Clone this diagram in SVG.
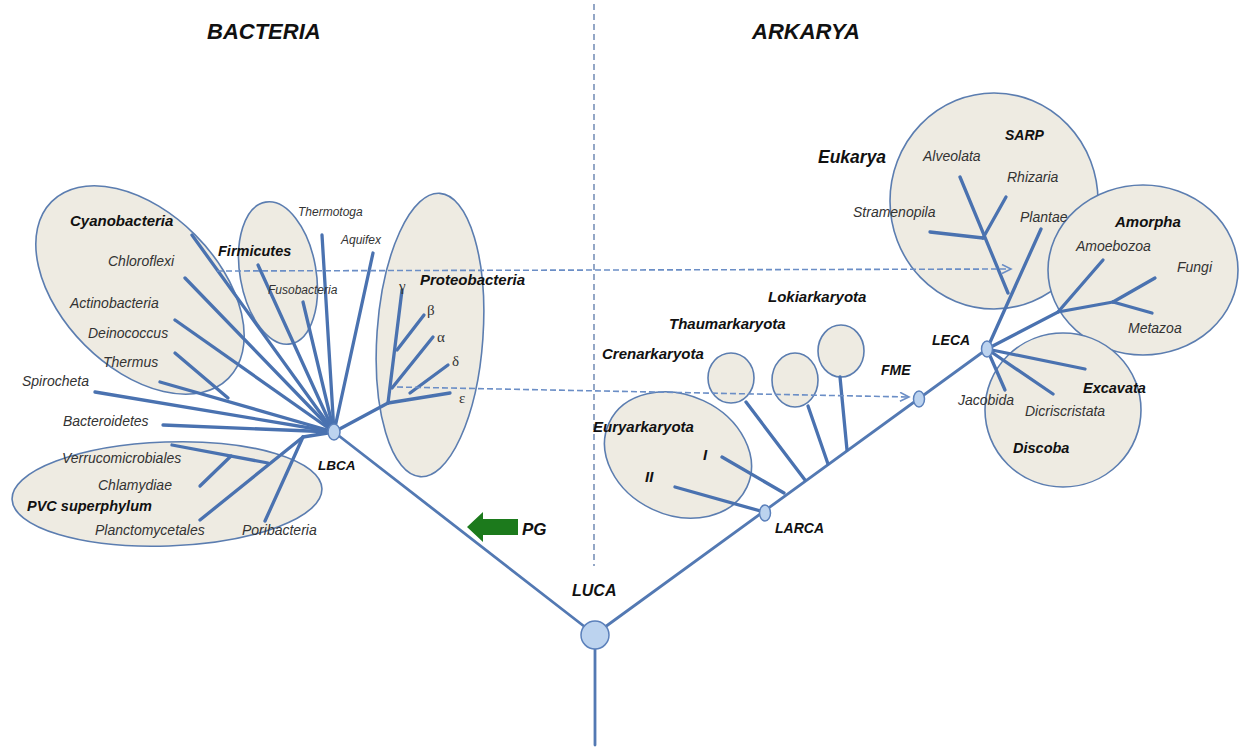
<svg xmlns="http://www.w3.org/2000/svg" width="1252" height="751" viewBox="0 0 1252 751">
<style>
.br{stroke:#4a72b0;stroke-width:3.3;stroke-linecap:round;fill:none}
.tr{stroke:#5379b3;stroke-width:2.8;stroke-linecap:round;fill:none}
.grp{fill:#eeebe2;stroke:#5b7db0;stroke-width:1.6}
.node{fill:#bcd3ef;stroke:#5b80bb;stroke-width:1.5}
.dash{stroke:#6b8ec6;stroke-width:1.6;stroke-dasharray:6 3;fill:none}
.vdash{stroke:#5a78a8;stroke-width:1.3;stroke-dasharray:6 4;fill:none}
text{font-family:"Liberation Sans",Arial,sans-serif;font-style:italic;font-size:14px;fill:#333}
.b{font-weight:bold;fill:#111}
.s{font-size:12px}
.g{font-family:"Liberation Serif","Times New Roman",serif;font-style:normal;font-size:15px;fill:#333}
.t{font-size:22px;font-weight:bold;fill:#111}
</style>
<defs>
<marker id="chev" markerWidth="12" markerHeight="12" refX="10" refY="5" orient="auto" markerUnits="userSpaceOnUse">
<path d="M1,0.5 L10,5 L1,9.5" fill="none" stroke="#6b8ec6" stroke-width="1.6"/>
</marker>
</defs>
<rect width="1252" height="751" fill="#ffffff"/>

<g id="titles">
<text class="t" x="207" y="39">BACTERIA</text>
<text class="t" x="752" y="39">ARKARYA</text>
</g>

<g id="divider"><line class="vdash" x1="594" y1="4" x2="594" y2="566"/></g>

<g id="group-ellipses">
<ellipse id="cyano-grp" class="grp" cx="140" cy="290" rx="125" ry="78" transform="rotate(45 140 290)"/>
<ellipse id="firmicutes-grp" class="grp" cx="278" cy="273" rx="38" ry="72" transform="rotate(-10 278 273)"/>
<ellipse id="proteo-grp" class="grp" cx="430" cy="335" rx="53" ry="142" transform="rotate(4 430 335)"/>
<ellipse id="pvc-grp" class="grp" cx="167" cy="494" rx="155" ry="52" transform="rotate(-2 167 494)"/>
<ellipse id="eury-grp" class="grp" cx="678" cy="455" rx="76" ry="60" transform="rotate(25 678 455)"/>
<ellipse id="cren-grp" class="grp" cx="731" cy="378" rx="23" ry="25"/>
<ellipse id="thaum-grp" class="grp" cx="795" cy="380" rx="23" ry="27"/>
<ellipse id="loki-grp" class="grp" cx="841" cy="351" rx="23" ry="26"/>
<ellipse id="sarp-grp" class="grp" cx="994" cy="201" rx="104" ry="108"/>
<ellipse id="amorpha-grp" class="grp" cx="1143" cy="270" rx="95" ry="85"/>
<ellipse id="discoba-grp" class="grp" cx="1063" cy="410" rx="78" ry="77"/>
</g>

<g id="connectors">
<line class="tr" x1="595" y1="649" x2="595" y2="745"/>
<line class="tr" x1="585" y1="627" x2="334" y2="432"/>
<line class="tr" x1="605" y1="627" x2="987" y2="349"/>
<line class="br" x1="192" y1="235" x2="334" y2="432"/>
<line class="br" x1="185" y1="278" x2="334" y2="432"/>
<line class="br" x1="175" y1="320" x2="334" y2="432"/>
<line class="br" x1="175" y1="353" x2="228" y2="398"/>
<line class="br" x1="160" y1="382" x2="334" y2="432"/>
<line class="br" x1="95" y1="392" x2="334" y2="432"/>
<line class="br" x1="163" y1="425" x2="334" y2="432"/>
<line class="br" x1="258" y1="265" x2="334" y2="432"/>
<line class="br" x1="303" y1="302" x2="334" y2="432"/>
<line class="br" x1="322" y1="235" x2="334" y2="432"/>
<line class="br" x1="373" y1="253" x2="334" y2="432"/>
<line class="br" x1="303" y1="437" x2="334" y2="432"/>
<line class="br" x1="303" y1="437" x2="200" y2="520"/>
<line class="br" x1="303" y1="437" x2="265" y2="521"/>
<line class="br" x1="172" y1="445" x2="268" y2="463"/>
<line class="br" x1="200" y1="486" x2="231" y2="456"/>
<line class="br" x1="334" y1="432" x2="388" y2="403"/>
<line class="br" x1="388" y1="403" x2="450" y2="393"/>
<line class="br" x1="410" y1="393" x2="448" y2="365"/>
<line class="br" x1="392" y1="388" x2="433" y2="337"/>
<line class="br" x1="397" y1="350" x2="424" y2="315"/>
<line class="br" x1="388" y1="403" x2="402" y2="290"/>
<line class="br" x1="675" y1="487" x2="764" y2="512"/>
<line class="br" x1="722" y1="457" x2="784" y2="493"/>
<line class="br" x1="746" y1="402" x2="805" y2="480"/>
<line class="br" x1="808" y1="406" x2="828" y2="464"/>
<line class="br" x1="840" y1="377" x2="847" y2="450"/>
<line class="br" x1="987" y1="349" x2="1041" y2="229"/>
<line class="br" x1="960" y1="177" x2="1008" y2="293"/>
<line class="br" x1="1006" y1="197" x2="983" y2="238"/>
<line class="br" x1="930" y1="232" x2="983" y2="238"/>
<polyline class="br" points="987,349 1058,312 1113,302"/>
<line class="br" x1="1113" y1="302" x2="1155" y2="278"/>
<line class="br" x1="1113" y1="302" x2="1152" y2="313"/>
<line class="br" x1="1103" y1="260" x2="1058" y2="312"/>
<line class="br" x1="987" y1="349" x2="1085" y2="369"/>
<line class="br" x1="987" y1="349" x2="1053" y2="394"/>
<line class="br" x1="987" y1="349" x2="1005" y2="390"/>
<line class="dash" x1="217" y1="271" x2="1011" y2="269" marker-end="url(#chev)"/>
<line class="dash" x1="397" y1="387" x2="909" y2="397" marker-end="url(#chev)"/>
</g>

<g id="nodes">
<ellipse id="LBCA" class="node" cx="334" cy="432" rx="6" ry="8"/>
<circle id="LUCA" class="node" cx="595" cy="635" r="14"/>
<ellipse id="LARCA" class="node" cx="765" cy="513" rx="5.5" ry="8"/>
<ellipse id="FME" class="node" cx="919" cy="399" rx="5.5" ry="8"/>
<ellipse id="LECA" class="node" cx="987" cy="349" rx="5.5" ry="8"/>
</g>

<g id="pg-arrow">
<polygon points="467,527 483,512 483,519 518,519 518,535 483,535 483,542" fill="#1c7a1c"/>
<text class="b" x="522" y="535" style="font-size:17px">PG</text>
</g>

<g id="labels-bacteria">
<text class="b" x="70" y="226" style="font-size:15px">Cyanobacteria</text>
<text x="108" y="266">Chloroflexi</text>
<text x="70" y="308">Actinobacteria</text>
<text x="88" y="338">Deinococcus</text>
<text x="103" y="367">Thermus</text>
<text x="22" y="386">Spirocheta</text>
<text x="63" y="426">Bacteroidetes</text>
<text x="62" y="463">Verrucomicrobiales</text>
<text x="98" y="490">Chlamydiae</text>
<text class="b" x="27" y="511" style="font-size:14.5px">PVC superphylum</text>
<text x="95" y="535">Planctomycetales</text>
<text x="242" y="535">Poribacteria</text>
<text class="b" x="318" y="470" style="font-size:13.5px">LBCA</text>
<text class="b" x="218" y="256" style="font-size:14.5px">Firmicutes</text>
<text class="s" x="268" y="294">Fusobacteria</text>
<text class="s" x="298" y="216">Thermotoga</text>
<text class="s" x="341" y="244">Aquifex</text>
<text class="b" x="420" y="285" style="font-size:15px">Proteobacteria</text>
<text class="g" x="399" y="291">γ</text>
<text class="g" x="427" y="315">β</text>
<text class="g" x="437" y="342">α</text>
<text class="g" x="452" y="366">δ</text>
<text class="g" x="459" y="403">ε</text>
<text class="b" x="572" y="596" style="font-size:16px">LUCA</text>
</g>

<g id="labels-arkarya">
<text class="b" x="768" y="302" style="font-size:15px">Lokiarkaryota</text>
<text class="b" x="669" y="329" style="font-size:15px">Thaumarkaryota</text>
<text class="b" x="602" y="359" style="font-size:15px">Crenarkaryota</text>
<text class="b" x="593" y="432" style="font-size:15px">Euryarkaryota</text>
<text class="b" x="703" y="460" style="font-size:15px">I</text>
<text class="b" x="645" y="482" style="font-size:15px">II</text>
<text class="b" x="775" y="533">LARCA</text>
<text class="b" x="881" y="375">FME</text>
<text class="b" x="932" y="345">LECA</text>
<text class="b" x="818" y="163" style="font-size:17.5px">Eukarya</text>
<text class="b" x="1005" y="140">SARP</text>
<text x="923" y="161">Alveolata</text>
<text x="1007" y="182">Rhizaria</text>
<text x="853" y="217">Stramenopila</text>
<text x="1020" y="222">Plantae</text>
<text class="b" x="1115" y="227" style="font-size:15px">Amorpha</text>
<text x="1076" y="251">Amoebozoa</text>
<text x="1177" y="272">Fungi</text>
<text x="1128" y="333">Metazoa</text>
<text class="b" x="1083" y="393" style="font-size:14.5px">Excavata</text>
<text x="958" y="405">Jacobida</text>
<text x="1025" y="416">Dicriscristata</text>
<text class="b" x="1013" y="453" style="font-size:14.5px">Discoba</text>
</g>
</svg>
